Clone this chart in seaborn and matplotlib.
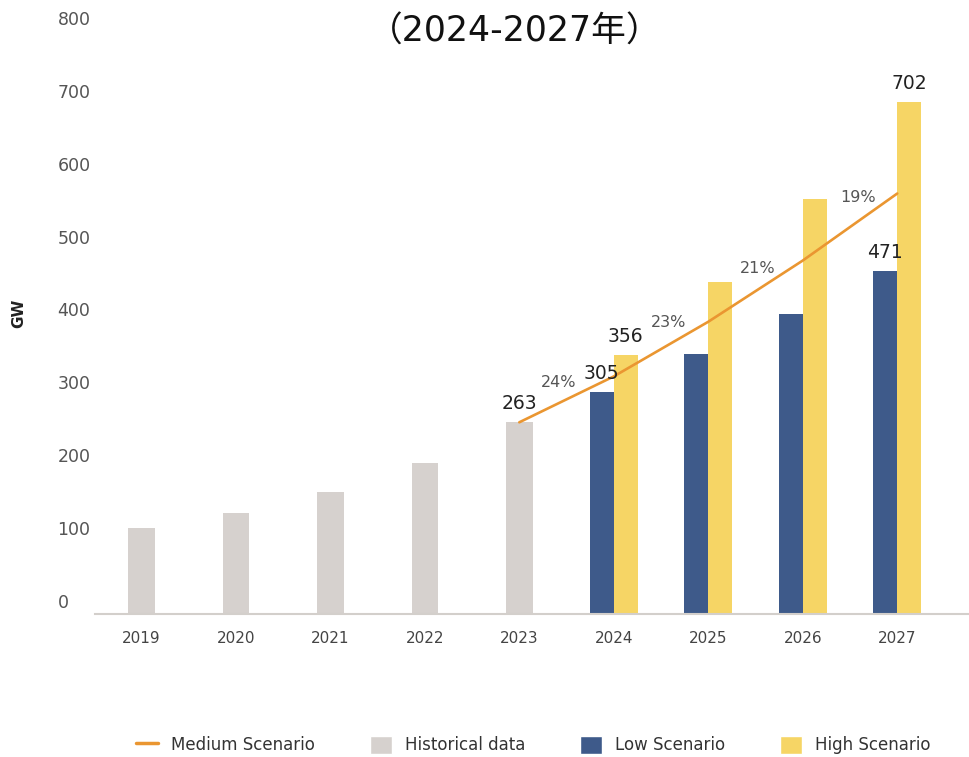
import matplotlib
matplotlib.use("Agg")
import matplotlib.pyplot as plt
import matplotlib.transforms as mtransforms
from matplotlib.lines import Line2D
from matplotlib.patches import Patch
import seaborn as sns
import pandas as pd

# ---- data ----
years = ["2019", "2020", "2021", "2022", "2023", "2024", "2025", "2026", "2027"]
hist_years = ["2019", "2020", "2021", "2022", "2023"]
hist_values = [118, 139, 167, 207, 263]
scen_years = ["2024", "2025", "2026", "2027"]
low_values = [305, 357, 412, 471]
high_values = [356, 455, 569, 702]
medium_years = ["2023", "2024", "2025", "2026", "2027"]
medium_values = [263, 326, 401, 485, 577]
growth_labels = ["24%", "23%", "21%", "19%"]
yticks = [0, 100, 200, 300, 400, 500, 600, 700, 800]

c_hist = "#d6d1ce"
c_low = "#3e5a8a"
c_high = "#f6d565"
c_med = "#ea9631"

sns.set_style("white")
plt.rcParams["font.family"] = ["DejaVu Sans", "Noto Sans CJK JP"]

fig = plt.figure(figsize=(9.7, 7.57), dpi=100)
ax = fig.add_axes([0.098, 0.189, 0.902, 0.770])

# historical bars (single, centred)
sns.barplot(x=hist_years, y=hist_values, order=years, color=c_hist,
            width=0.28, ax=ax, saturation=1, linewidth=0)

# scenario bars (low / high side by side)
scen = pd.DataFrame({
    "year": scen_years * 2,
    "GW": low_values + high_values,
    "scenario": ["Low Scenario"] * 4 + ["High Scenario"] * 4,
})
sns.barplot(data=scen, x="year", y="GW", hue="scenario", order=years,
            hue_order=["Low Scenario", "High Scenario"],
            palette=[c_low, c_high], width=0.51, ax=ax, saturation=1,
            linewidth=0, legend=False)

# medium scenario line
med_x = [years.index(y) for y in medium_years]
sns.lineplot(x=med_x, y=medium_values, color=c_med, linewidth=1.9, ax=ax)

# value labels above selected bars
dodge = 0.51 / 4
bar_labels = [
    (years.index("2023"), hist_values[4], "263"),
    (years.index("2024") - dodge, low_values[0], "305"),
    (years.index("2024") + dodge, high_values[0], "356"),
    (years.index("2027") - dodge, low_values[3], "471"),
    (years.index("2027") + dodge, high_values[3], "702"),
]
for x, v, t in bar_labels:
    ax.annotate(t, (x, v), xytext=(0, 9), textcoords="offset pixels",
                ha="center", va="bottom", fontsize=13.5, color="#222222")

# growth labels above the line segments
offs = [(-8, 17), (8, 27), (2, 23), (8, 30)]
for i, t in enumerate(growth_labels):
    mx = (med_x[i] + med_x[i + 1]) / 2
    my = (medium_values[i] + medium_values[i + 1]) / 2
    ax.annotate(t, (mx, my), xytext=offs[i], textcoords="offset pixels",
                ha="center", va="center", fontsize=11.5, color="#555555")

ax.set_xlim(-0.49, 8.77)
ax.set_ylim(0, 800)
ax.set_yticks(yticks)
ax.set_yticklabels([str(v) for v in yticks])
ax.set_xlabel("")
ax.set_ylabel("GW", fontsize=11, fontweight="bold", color="#222222")
ax.yaxis.set_label_coords(-0.079, 0.516)

ax.tick_params(axis="both", length=0)
ax.tick_params(axis="y", pad=27, labelsize=12.5, labelcolor="#555555")
ax.tick_params(axis="x", pad=12, labelsize=11, labelcolor="#444444")
shift = mtransforms.ScaledTranslation(0, 13 / 100, fig.dpi_scale_trans)
for lab in ax.get_yticklabels():
    lab.set_horizontalalignment("left")
    lab.set_transform(lab.get_transform() + shift)

for s in ["top", "right", "left"]:
    ax.spines[s].set_visible(False)
ax.spines["bottom"].set_color("#d3cfcb")
ax.spines["bottom"].set_linewidth(1.5)

fig.text(0.531, 0.958, "（2024-2027年）", ha="center", va="center",
         fontsize=25, family=["DejaVu Sans", "Noto Sans CJK JP"], color="#111111")

handles = [
    Line2D([0], [0], color=c_med, linewidth=2.5),
    Patch(facecolor=c_hist),
    Patch(facecolor=c_low),
    Patch(facecolor=c_high),
]
names = ["Medium Scenario", "Historical data", "Low Scenario", "High Scenario"]
fig.legend(handles, names, loc="center", bbox_to_anchor=(0.55, 0.016), ncol=4,
           frameon=False, fontsize=12, handlelength=1.3, handleheight=1.3,
           columnspacing=3.3, handletextpad=0.8, labelcolor="#333333")

fig.savefig("out.png", dpi=100)
